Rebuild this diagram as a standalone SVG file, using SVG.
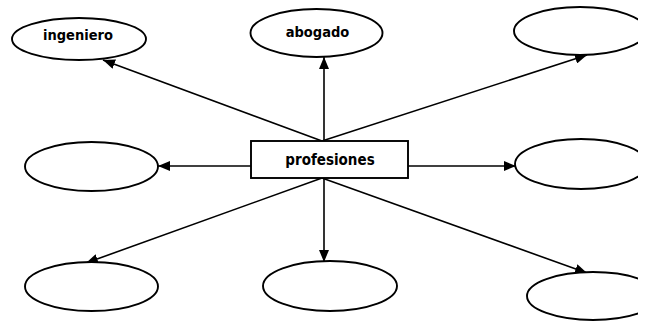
<svg xmlns="http://www.w3.org/2000/svg" width="650" height="325" viewBox="0 0 650 325">
  <style>
    .node { fill: #fff; stroke: #000; stroke-width: 1.9; }
    .label { font-family: "DejaVu Sans Condensed", "DejaVu Sans", "Liberation Sans", sans-serif; font-stretch: condensed; font-weight: bold; font-size: 14.5px; fill: #000; text-anchor: middle; }
    .link { stroke: #000; stroke-width: 1.6; fill: none; marker-end: url(#head); }
  </style>
  <defs>
    <marker id="head" viewBox="0 0 12 10" refX="12" refY="5" markerWidth="12" markerHeight="10" markerUnits="userSpaceOnUse" orient="auto">
      <path d="M0,0 L12,5 L0,10 Z" fill="#000"/>
    </marker>
    <clipPath id="page">
      <rect x="0" y="0" width="638" height="325"/>
    </clipPath>
  </defs>
  <rect width="650" height="325" fill="#fff"/>

  <g id="connectors">
    <line class="link" x1="322" y1="141" x2="103" y2="60"/>
    <line class="link" x1="324" y1="141" x2="324" y2="57"/>
    <line class="link" x1="322" y1="141" x2="587" y2="55"/>
    <line class="link" x1="251" y1="166" x2="158" y2="166"/>
    <line class="link" x1="408" y1="166" x2="516" y2="166"/>
    <line class="link" x1="322" y1="178" x2="86" y2="263"/>
    <line class="link" x1="324" y1="178" x2="324" y2="262"/>
    <line class="link" x1="322" y1="178" x2="587" y2="273"/>
  </g>

  <g id="ingeniero">
    <ellipse class="node" cx="79" cy="39" rx="67" ry="21"/>
    <text class="label" x="78" y="40">ingeniero</text>
  </g>
  <g id="abogado">
    <ellipse class="node" cx="316.5" cy="33" rx="66" ry="24"/>
    <text class="label" x="317.5" y="37">abogado</text>
  </g>
  <g id="top-right" clip-path="url(#page)">
    <ellipse class="node" cx="580" cy="31" rx="66" ry="24"/>
  </g>
  <g id="middle-left">
    <ellipse class="node" cx="91.5" cy="166.5" rx="66.5" ry="24.5"/>
  </g>
  <g id="profesiones">
    <rect class="node" x="251" y="141" width="157" height="37"/>
    <text class="label" x="330" y="165" style="font-size:15px">profesiones</text>
  </g>
  <g id="middle-right" clip-path="url(#page)">
    <ellipse class="node" cx="581" cy="164" rx="66" ry="25"/>
  </g>
  <g id="bottom-left">
    <ellipse class="node" cx="91.5" cy="286.5" rx="66.5" ry="24.5"/>
  </g>
  <g id="bottom-middle">
    <ellipse class="node" cx="330" cy="286" rx="67" ry="25"/>
  </g>
  <g id="bottom-right" clip-path="url(#page)">
    <ellipse class="node" cx="593" cy="296" rx="66" ry="24"/>
  </g>
</svg>
